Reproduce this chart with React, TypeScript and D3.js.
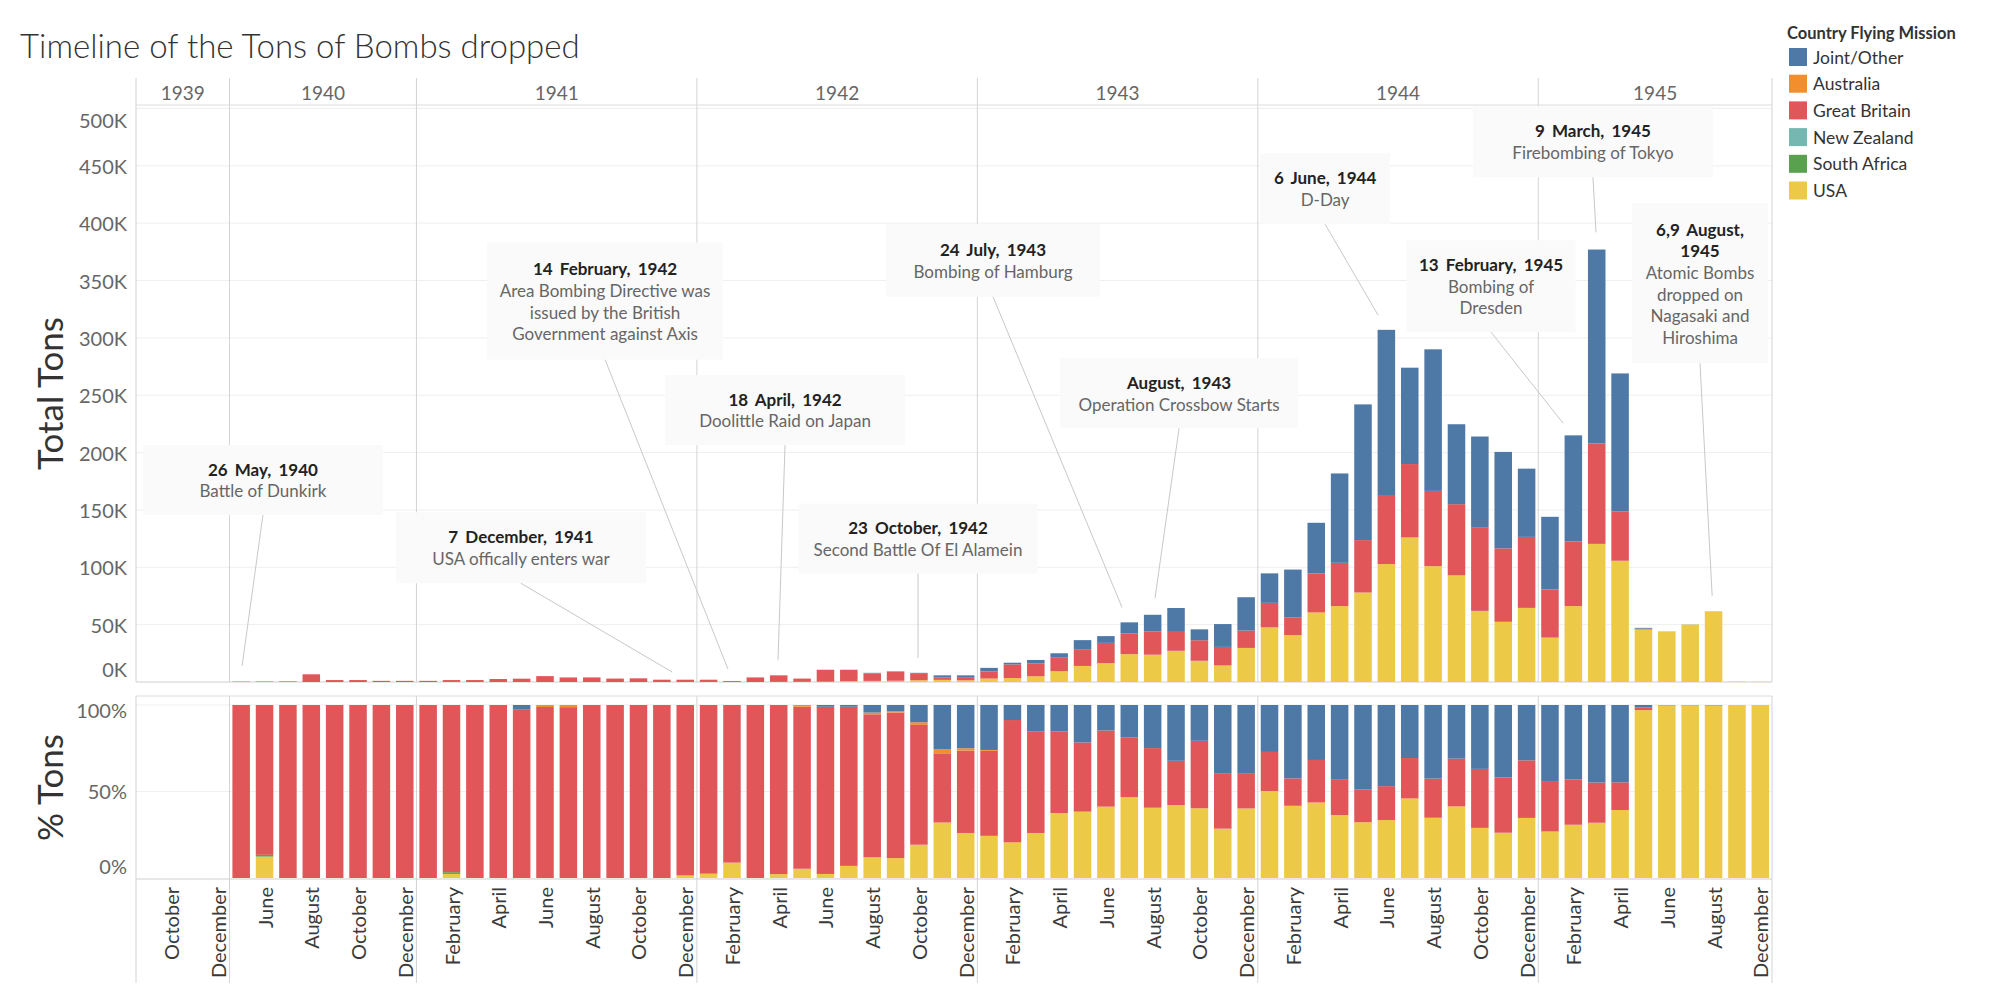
import * as d3 from 'd3';

// month columns shown by the view (Tableau only keeps months that have rows)
const PERIODS = [
  '1939-09', '1939-10', '1939-11', '1939-12',
  '1940-05', '1940-06', '1940-07', '1940-08', '1940-09', '1940-10', '1940-11', '1940-12',
  '1941-01', '1941-02', '1941-03', '1941-04', '1941-05', '1941-06', '1941-07', '1941-08', '1941-09', '1941-10', '1941-11', '1941-12',
  '1942-01', '1942-02', '1942-03', '1942-04', '1942-05', '1942-06', '1942-07', '1942-08', '1942-09', '1942-10', '1942-11', '1942-12',
  '1943-01', '1943-02', '1943-03', '1943-04', '1943-05', '1943-06', '1943-07', '1943-08', '1943-09', '1943-10', '1943-11', '1943-12',
  '1944-01', '1944-02', '1944-03', '1944-04', '1944-05', '1944-06', '1944-07', '1944-08', '1944-09', '1944-10', '1944-11', '1944-12',
  '1945-01', '1945-02', '1945-03', '1945-04', '1945-05', '1945-06', '1945-07', '1945-08', '1945-09', '1945-12',
];

const MONTH_NAMES = ['January', 'February', 'March', 'April', 'May', 'June', 'July', 'August', 'September', 'October', 'November', 'December'];

// legend order (top of stack first)
const COUNTRIES = ['Joint/Other', 'Australia', 'Great Britain', 'New Zealand', 'South Africa', 'USA'];
const COLORS = ['#4e79a7', '#f28e2b', '#e15759', '#76b7b2', '#59a14f', '#edc948'];

// thousand tons per month
const USA = [
  0, 0, 0, 0,
  0, 0.05, 0, 0, 0, 0, 0, 0,
  0, 0.04, 0, 0, 0, 0, 0, 0, 0, 0, 0, 0.03,
  0.05, 0.08, 0, 0.13, 0.16, 0.25, 0.75, 0.96, 1.08, 1.54, 1.86, 1.51,
  3.0, 3.46, 5.0, 9.4, 14.0, 16.5, 24.3, 23.8, 27.2, 18.5, 14.4, 29.7,
  47.6, 40.9, 60.6, 66.2, 78, 102.8, 126, 101, 93, 62, 52.5, 64.6,
  38.7, 66.2, 120.4, 105.7, 45.8, 44.0, 50.1, 61.3, 0.3, 0.2,
];
const GREAT_BRITAIN = [
  0, 0, 0, 0,
  0.3, 0.35, 0.5, 6.7, 1.7, 1.7, 1.0, 1.0,
  1.0, 1.64, 1.7, 2.6, 2.83, 5.12, 3.95, 4.0, 3.0, 3.2, 2.0, 1.97,
  1.95, 0.82, 4.0, 5.67, 2.81, 10.34, 9.84, 6.61, 7.9, 5.54, 2.32, 2.76,
  6.05, 11.88, 11.25, 11.8, 14.6, 17.6, 18.0, 20.2, 16.5, 17.9, 16.2, 15.1,
  21.4, 15.5, 34.1, 37.7, 45.7, 60.2, 64, 65.6, 62, 73, 64, 61.9,
  42, 56.4, 87.6, 43.1, 0.7, 0, 0, 0, 0, 0,
];
const JOINT_OTHER = [
  0, 0, 0, 0,
  0, 0, 0, 0, 0, 0, 0, 0,
  0, 0, 0, 0, 0.07, 0, 0, 0, 0, 0, 0, 0,
  0, 0, 0, 0, 0, 0.11, 0.11, 0.35, 0.33, 0.8, 1.48, 1.45,
  3.2, 1.46, 2.96, 3.85, 7.9, 5.9, 9.7, 14.6, 20.8, 9.5, 19.9, 29.1,
  25.7, 41.6, 44.1, 77.9, 118.3, 144, 84, 123.4, 69.7, 79, 84.1, 59.5,
  63.3, 92.4, 169, 120.2, 0.7, 0, 0, 0, 0, 0,
];
const AUSTRALIA = [
  0, 0, 0, 0,
  0, 0, 0, 0, 0, 0, 0, 0,
  0, 0, 0, 0, 0, 0.06, 0.05, 0, 0, 0, 0, 0,
  0, 0, 0, 0, 0.03, 0, 0, 0.08, 0.08, 0.12, 0.14, 0.08,
  0.06, 0, 0, 0, 0, 0, 0, 0, 0, 0, 0, 0,
  0, 0, 0, 0, 0, 0, 0, 0, 0, 0, 0, 0,
  0, 0, 0, 0, 0, 0, 0, 0, 0, 0,
];
const NEW_ZEALAND = [
  0, 0, 0, 0,
  0, 0, 0, 0, 0, 0, 0, 0,
  0, 0, 0, 0, 0, 0, 0, 0, 0, 0, 0, 0,
  0, 0, 0, 0, 0, 0, 0, 0, 0, 0, 0, 0,
  0, 0, 0, 0, 0, 0, 0, 0, 0, 0, 0, 0,
  0, 0, 0, 0, 0, 0, 0, 0, 0, 0, 0, 0,
  0, 0, 0, 0, 0, 0.2, 0.2, 0.3, 0, 0,
];
const SOUTH_AFRICA = [
  0, 0, 0, 0,
  0, 0.004, 0, 0, 0, 0, 0, 0,
  0, 0.017, 0, 0, 0, 0, 0, 0, 0, 0, 0, 0,
  0, 0, 0, 0, 0, 0, 0, 0, 0, 0, 0, 0,
  0, 0, 0, 0, 0, 0, 0, 0, 0, 0, 0, 0,
  0, 0, 0, 0, 0, 0, 0, 0, 0, 0, 0, 0,
  0, 0, 0, 0, 0, 0, 0, 0, 0, 0,
];

const TON_TICKS = [0, 50, 100, 150, 200, 250, 300, 350, 400, 450, 500];
const PCT_TICKS = [0, 0.5, 1];

const NOTES = [
  { date: ['26 May, 1940'], text: ['Battle of Dunkirk'] },
  { date: ['7 December, 1941'], text: ['USA offically enters war'] },
  { date: ['14 February, 1942'], text: ['Area Bombing Directive was', 'issued by the British', 'Government against Axis'] },
  { date: ['18 April, 1942'], text: ['Doolittle Raid on Japan'] },
  { date: ['23 October, 1942'], text: ['Second Battle Of El Alamein'] },
  { date: ['24 July, 1943'], text: ['Bombing of Hamburg'] },
  { date: ['August, 1943'], text: ['Operation Crossbow Starts'] },
  { date: ['6 June, 1944'], text: ['D-Day'] },
  { date: ['13 February, 1945'], text: ['Bombing of', 'Dresden'] },
  { date: ['9 March, 1945'], text: ['Firebombing of Tokyo'] },
  { date: ['6,9 August,', '1945'], text: ['Atomic Bombs', 'dropped on', 'Nagasaki and', 'Hiroshima'] },
];

// [target month pos, target K, box month pos, box K, box w, box h]
const NOTE_LAYOUT = [
  [4.54, 14, 5.43, 176, 240, 70],
  [22.94, 8.7, 16.47, 117, 250, 71],
  [25.33, 11.3, 20.07, 332, 236, 117],
  [27.47, 19, 27.77, 237, 240, 70],
  [33.46, 21, 33.46, 125, 239, 70],
  [42.19, 65, 36.67, 367.6, 214, 73],
  [43.6, 73, 44.63, 251.7, 238, 70],
  [53.15, 319.7, 50.88, 430, 130, 71],
  [61.06, 225.6, 57.98, 345, 169, 92],
  [62.47, 392, 62.34, 471, 240, 71],
  [67.44, 75, 66.92, 347.6, 136, 160],
];

const FONT = "Lato, 'Open Sans', sans-serif";
const L = 136;
const R = 1772;
const HEADER_TOP = 78;
const TOP = 105;
const BOTTOM = 682;
const PCT_TOP = 696;
const PCT_BOTTOM = 879;
const AXIS_BOTTOM = 983;
const LINE_H = 21.7;

export default function App() {
  const series: Record<string, number[]> = {
    'Joint/Other': JOINT_OTHER,
    'Australia': AUSTRALIA,
    'Great Britain': GREAT_BRITAIN,
    'New Zealand': NEW_ZEALAND,
    'South Africa': SOUTH_AFRICA,
    'USA': USA,
  };
  const rows = PERIODS.map((p, i) => {
    const r: any = { period: p };
    COUNTRIES.forEach(c => { r[c] = series[c][i]; });
    return r;
  });
  const keys = [...COUNTRIES].reverse();
  const color = d3.scaleOrdinal<string, string>().domain(COUNTRIES).range(COLORS);

  const tons = d3.stack<any>().keys(keys)(rows);
  const pct = d3.stack<any>().keys(keys).offset(d3.stackOffsetExpand)(rows);

  const x = d3.scaleBand<string>().domain(PERIODS).range([L, R]).paddingInner(0.25).paddingOuter(0.125);
  const xt = d3.scaleLinear().domain([0, PERIODS.length]).range([L, R]);
  const y = d3.scaleLinear().domain([0, 503]).range([BOTTOM, TOP]);
  const yp = d3.scaleLinear().domain([0, 1.052]).range([878, PCT_TOP]);

  // year spans
  const years = d3.groups(PERIODS.map((p, i) => ({ p, i, year: p.slice(0, 4) })), d => d.year)
    .map(([year, list]) => ({ year, start: list[0].i, end: list[list.length - 1].i + 1 }));

  const monthLabels = PERIODS.map((p, i) => {
    const yr = p.slice(0, 4);
    const idxInYear = PERIODS.filter((q, j) => j < i && q.slice(0, 4) === yr).length;
    return { p, show: idxInYear % 2 === 1, name: MONTH_NAMES[+p.slice(5) - 1] };
  });

  const vLines = [L, ...years.slice(1).map(d => xt(d.start)), R];
  const segs: [number, number][] = [[HEADER_TOP, BOTTOM], [PCT_TOP, AXIS_BOTTOM]];

  return (
    <svg width={2000} height={1000} style={{ position: 'absolute', left: 0, top: 0, background: '#fff' }} fontFamily={FONT}>
      <text x={20} y={58} fontSize={33} fontWeight={300} fill="#333">Timeline of the Tons of Bombs dropped</text>

      {/* grid */}
      {TON_TICKS.filter(t => t > 0).map(t => (
        <line key={'g' + t} x1={L} x2={R} y1={y(t)} y2={y(t)} stroke="#efefef" />
      ))}
      {PCT_TICKS.filter(t => t > 0).map(t => (
        <line key={'gp' + t} x1={L} x2={R} y1={yp(t)} y2={yp(t)} stroke="#efefef" />
      ))}

      {/* pane borders and year dividers */}
      {vLines.map((vx, i) => segs.map((s, j) => (
        <line key={`v${i}-${j}`} x1={vx} x2={vx} y1={s[0]} y2={s[1]} stroke="#d4d4d4" />
      )))}
      <line x1={L} x2={R} y1={TOP} y2={TOP} stroke="#dcdcdc" />
      <line x1={L} x2={R} y1={BOTTOM} y2={BOTTOM} stroke="#cfcfcf" />
      <line x1={L} x2={R} y1={PCT_TOP} y2={PCT_TOP} stroke="#dcdcdc" />
      <line x1={L} x2={R} y1={PCT_BOTTOM} y2={PCT_BOTTOM} stroke="#cfcfcf" />

      {/* year headers */}
      {years.map(d => (
        <text key={d.year} x={(xt(d.start) + xt(d.end)) / 2} y={92} textAnchor="middle" dominantBaseline="central" fontSize={19} fill="#666">{d.year}</text>
      ))}

      {/* y axes */}
      {TON_TICKS.map(t => (
        <text key={'t' + t} x={127} y={Math.min(Math.max(y(t), TOP + 15), BOTTOM - 13)} textAnchor="end" dominantBaseline="central" fontSize={20} fill="#666">{t}K</text>
      ))}
      {PCT_TICKS.map(t => (
        <text key={'p' + t} x={127} y={Math.min(Math.max(yp(t), PCT_TOP + 14), PCT_BOTTOM - 13)} textAnchor="end" dominantBaseline="central" fontSize={20} fill="#666">{t * 100}%</text>
      ))}
      <text transform={`translate(49,${(TOP + BOTTOM) / 2}) rotate(-90)`} textAnchor="middle" dominantBaseline="central" fontSize={35} fill="#333">Total Tons</text>
      <text transform={`translate(49,${(PCT_TOP + PCT_BOTTOM) / 2}) rotate(-90)`} textAnchor="middle" dominantBaseline="central" fontSize={35} fill="#333">% Tons</text>

      {/* month labels */}
      {monthLabels.filter(d => d.show).map(d => (
        <text key={'m' + d.p} transform={`translate(${(x(d.p) ?? 0) + x.bandwidth() / 2},887) rotate(-90)`} textAnchor="end" dominantBaseline="central" fontSize={20} fill="#3a3a3a">{d.name}</text>
      ))}

      {/* bars */}
      {tons.map(s => (
        <g key={'b' + s.key} fill={color(s.key)}>
          {s.map((d, i) => d[1] - d[0] > 0 ? (
            <rect key={i} x={x(PERIODS[i])} width={x.bandwidth()} y={y(d[1])} height={y(d[0]) - y(d[1])} />
          ) : null)}
        </g>
      ))}
      {pct.map(s => (
        <g key={'pb' + s.key} fill={color(s.key)}>
          {s.map((d, i) => d[1] - d[0] > 0 ? (
            <rect key={i} x={x(PERIODS[i])} width={x.bandwidth()} y={yp(d[1])} height={yp(d[0]) - yp(d[1])} />
          ) : null)}
        </g>
      ))}

      {/* annotations */}
      {NOTES.map((n, i) => {
        const [tt, tv, bt, bv, w, h] = NOTE_LAYOUT[i];
        const cx = xt(bt);
        const cy = y(bv);
        const lines = [...n.date.map(s => ({ s, bold: true })), ...n.text.map(s => ({ s, bold: false }))];
        const y0 = cy - ((lines.length - 1) * LINE_H) / 2;
        return (
          <g key={'n' + i}>
            <rect x={cx - w / 2} y={cy - h / 2} width={w} height={h} fill="#fafafa" />
            <line x1={cx} y1={cy + h / 2} x2={xt(tt)} y2={y(tv)} stroke="#c8c8c8" />
            {lines.map((l, k) => (
              <text key={k} x={cx} y={y0 + k * LINE_H} textAnchor="middle" dominantBaseline="central" fontSize={17}
                fontWeight={l.bold ? 700 : 400} fill={l.bold ? '#222' : '#666'} wordSpacing={l.bold ? 3 : 0}>{l.s}</text>
            ))}
          </g>
        );
      })}

      {/* legend */}
      <text x={1787} y={33} dominantBaseline="central" fontSize={16.5} fontWeight={700} fill="#333">Country Flying Mission</text>
      {COUNTRIES.map((c, i) => (
        <g key={'l' + c} transform={`translate(1789,${57 + i * 26.7})`}>
          <rect x={0} y={-9} width={18} height={18} fill={color(c)} />
          <text x={24} y={0} dominantBaseline="central" fontSize={17.5} fill="#333">{c}</text>
        </g>
      ))}
    </svg>
  );
}
